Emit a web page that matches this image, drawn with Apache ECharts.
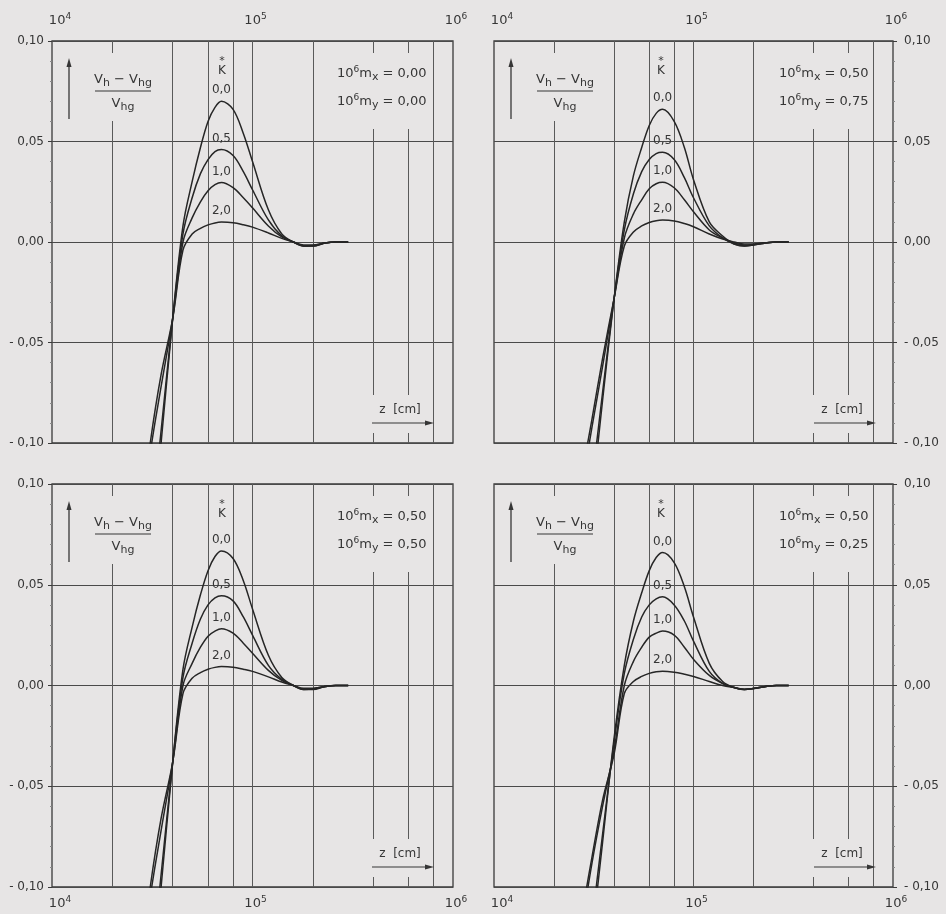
<!DOCTYPE html>
<html>
<head>
<meta charset="utf-8">
<title>(vh - vhg) / vhg over z</title>
<script src="https://cdn.jsdelivr.net/npm/echarts@6/dist/echarts.min.js"></script>
<style>
  html, body { margin: 0; padding: 0; background: #e7e5e5; }
  #chart { width: 946px; height: 914px; }
</style>
</head>
<body>
<div id="chart"></div>
<script>
// z [cm] sample points, shared by all curves
var zPoints = [28000, 31000, 35000, 40000, 45000, 50000, 55000, 60000, 65000, 70000, 80000, 90000,
  100000, 120000, 140000, 160000, 180000, 200000, 230000, 260000, 300000];

// K* = 0.0 / 0.5 / 1.0 / 2.0, panel 1 (mx 0.00, my 0.00)
var p1k00 = [-0.200, -0.155, -0.100, -0.038, 0.008, 0.030, 0.047, 0.060, 0.067, 0.070, 0.066, 0.054, 0.040, 0.016, 0.004, 0.000, -0.002, -0.002, -0.0005, 0, 0];
var p1k05 = [-0.185, -0.145, -0.094, -0.038, 0.004, 0.022, 0.034, 0.041, 0.045, 0.046, 0.043, 0.035, 0.026, 0.011, 0.003, 0.000, -0.002, -0.002, -0.0005, 0, 0];
var p1k10 = [-0.140, -0.104, -0.072, -0.038, 0.000, 0.012, 0.020, 0.0255, 0.0285, 0.0296, 0.027, 0.022, 0.017, 0.008, 0.0025, 0.000, -0.002, -0.0018, -0.0005, 0, 0];
var p1k20 = [-0.135, -0.099, -0.066, -0.038, -0.004, 0.004, 0.0068, 0.0085, 0.0095, 0.0099, 0.0096, 0.0086, 0.0074, 0.0045, 0.0018, 0.000, -0.0015, -0.0015, -0.0005, 0, 0];

// panel 2 (mx 0.50, my 0.75)
var p2k00 = [-0.169, -0.128, -0.079, -0.028, 0.010, 0.033, 0.047, 0.058, 0.064, 0.066, 0.060, 0.047, 0.031, 0.010, 0.003, -0.001, -0.002, -0.0015, -0.0005, 0, 0];
var p2k05 = [-0.160, -0.120, -0.075, -0.028, 0.006, 0.024, 0.035, 0.041, 0.044, 0.0446, 0.041, 0.032, 0.022, 0.008, 0.002, -0.001, -0.002, -0.0015, -0.0005, 0, 0];
var p2k10 = [-0.118, -0.092, -0.062, -0.028, 0.002, 0.014, 0.021, 0.0265, 0.029, 0.0297, 0.027, 0.021, 0.015, 0.006, 0.002, -0.0005, -0.0015, -0.0012, -0.0004, 0, 0];
var p2k20 = [-0.112, -0.088, -0.058, -0.028, -0.002, 0.005, 0.008, 0.0097, 0.0106, 0.0109, 0.0105, 0.0092, 0.0076, 0.004, 0.0015, 0.000, -0.001, -0.001, -0.0004, 0, 0];

// panel 3 (mx 0.50, my 0.50)
var p3k00 = [-0.195, -0.152, -0.100, -0.038, 0.008, 0.029, 0.045, 0.057, 0.064, 0.0668, 0.063, 0.052, 0.038, 0.015, 0.004, 0.000, -0.002, -0.002, -0.0005, 0, 0];
var p3k05 = [-0.185, -0.145, -0.094, -0.038, 0.004, 0.021, 0.033, 0.040, 0.0435, 0.0446, 0.042, 0.034, 0.025, 0.010, 0.003, 0.000, -0.002, -0.0018, -0.0005, 0, 0];
var p3k10 = [-0.140, -0.104, -0.072, -0.038, 0.000, 0.011, 0.019, 0.0245, 0.027, 0.0282, 0.026, 0.021, 0.016, 0.0075, 0.0025, 0.000, -0.0018, -0.0016, -0.0005, 0, 0];
var p3k20 = [-0.135, -0.099, -0.066, -0.038, -0.004, 0.0036, 0.0064, 0.0081, 0.009, 0.0094, 0.0091, 0.0081, 0.007, 0.0043, 0.0017, 0.000, -0.0014, -0.0014, -0.0005, 0, 0];

// panel 4 (mx 0.50, my 0.25)
var p4k00 = [-0.165, -0.125, -0.078, -0.026, 0.010, 0.032, 0.046, 0.057, 0.0635, 0.066, 0.061, 0.049, 0.034, 0.011, 0.002, -0.001, -0.002, -0.0015, -0.0005, 0, 0];
var p4k05 = [-0.158, -0.118, -0.074, -0.028, 0.006, 0.023, 0.034, 0.040, 0.043, 0.044, 0.040, 0.032, 0.022, 0.007, 0.001, -0.001, -0.002, -0.0015, -0.0005, 0, 0];
var p4k10 = [-0.115, -0.088, -0.060, -0.032, 0.000, 0.012, 0.019, 0.024, 0.026, 0.027, 0.025, 0.019, 0.013, 0.005, 0.001, -0.001, -0.002, -0.0015, -0.0005, 0, 0];
var p4k20 = [-0.110, -0.085, -0.057, -0.034, -0.004, 0.002, 0.0045, 0.006, 0.0068, 0.0071, 0.0066, 0.0056, 0.0045, 0.002, 0.000, -0.001, -0.0018, -0.0015, -0.0005, 0, 0];

var kLabels = ['0,0', '0,5', '1,0', '2,0'];
var mxLabels = ['0,00', '0,50', '0,50', '0,50'];
var myLabels = ['0,00', '0,75', '0,50', '0,25'];
// vertical grid lines of the log paper
var gridZ = [20000, 40000, 60000, 80000, 100000, 200000, 400000, 600000, 800000];

var panelCurves = [
  [p1k00, p1k05, p1k10, p1k20],
  [p2k00, p2k05, p2k10, p2k20],
  [p3k00, p3k05, p3k10, p3k20],
  [p4k00, p4k05, p4k10, p4k20]
];

var paper = '#e7e5e5';
var ink = '#363636';
var font = 'DejaVu Sans';

var boxes = [
  { left: 52, top: 41, width: 401, height: 402 },
  { left: 494, top: 41, width: 399, height: 402 },
  { left: 52, top: 484, width: 401, height: 403 },
  { left: 494, top: 484, width: 399, height: 403 }
];
var kX = [170, 167, 170, 167];

function fmtY(v) {
  if (Math.abs(v) < 1e-9) return '0,00';
  var s = Math.abs(v).toFixed(2).replace('.', ',');
  return v < 0 ? '- ' + s : s;
}
function fmtX(v) {
  var e = Math.round(Math.log(v) / Math.LN10);
  return (e === 4 ? '{f|10}' : '{b|10}') + '{s|' + e + '}';
}

var chart = echarts.init(document.getElementById('chart'));

var grids = [], xAxes = [], yAxes = [], series = [], graphics = [];

boxes.forEach(function (b, i) {
  var isTop = i < 2, isRight = i % 2 === 1;
  grids.push({
    left: b.left, top: b.top, width: b.width, height: b.height,
    show: true, borderColor: '#3a3a3a', borderWidth: 1.3, backgroundColor: 'transparent',
    containLabel: false, outerBoundsMode: 'none'
  });
  xAxes.push({
    type: 'log', logBase: 10, min: 10000, max: 1000000, splitNumber: 2, gridIndex: i,
    position: isTop ? 'top' : 'bottom',
    axisLine: { show: false }, axisTick: { show: false }, splitLine: { show: false },
    axisLabel: {
      formatter: fmtX, margin: isTop ? 11 : 8,
      rich: {
        b: { fontSize: 13, fontFamily: font, color: ink, lineHeight: 18, padding: [0, 0, 0, 6] },
        f: { fontSize: 13, fontFamily: font, color: ink, lineHeight: 18, padding: [0, 0, 0, 16] },
        s: { fontSize: 9, fontFamily: font, color: ink, lineHeight: 10, verticalAlign: 'top' }
      }
    }
  });
  yAxes.push({
    type: 'value', min: -0.1, max: 0.1, interval: 0.05, gridIndex: i,
    position: isRight ? 'right' : 'left',
    axisLine: { show: false },
    axisTick: { show: true, length: 4, lineStyle: { color: '#3a3a3a' } },
    minorTick: { show: true, splitNumber: 5, length: 2, lineStyle: { color: '#8a8a8a' } },
    splitLine: { show: true, lineStyle: { color: '#4a4a4a', width: 1 } },
    axisLabel: { formatter: fmtY, margin: isRight ? 11 : 8, fontSize: 12, fontFamily: font, color: ink }
  });

  // vertical grid of the log paper
  series.push({
    type: 'line', xAxisIndex: i, yAxisIndex: i, data: [], silent: true, z: 1,
    markLine: {
      z: 1, silent: true, symbol: ['none', 'none'], animation: false,
      label: { show: false },
      lineStyle: { color: '#5a5a5a', width: 1, type: 'solid' },
      emphasis: { disabled: true },
      data: gridZ.map(function (z) { return { xAxis: z }; })
    }
  });

  panelCurves[i].forEach(function (vals, k) {
    series.push({
      type: 'line', xAxisIndex: i, yAxisIndex: i, z: 5, silent: true,
      smooth: 0.35, showSymbol: false, symbol: 'none', clip: true,
      lineStyle: { color: '#262626', width: 1.5 },
      data: zPoints.map(function (z, j) { return [z, vals[j]]; }),
      markPoint: {
        z: 6, symbol: 'circle', symbolSize: 0, silent: true, animation: false,
        data: [{ type: 'max' }],
        label: { show: true, position: 'top', distance: 5, formatter: kLabels[k],
          fontSize: 12, fontFamily: font, color: ink }
      }
    });
  });

  // paper masks where the printed grid is interrupted by lettering
  var L = b.left, T = b.top, B = b.top + b.height;
  [[L + 38, T + 12, 66, 68], [L + 276, T + 12, 98, 76], [L + 308, B - 48, 68, 38]].forEach(function (r) {
    graphics.push({ type: 'rect', z: 3, silent: true,
      shape: { x: r[0], y: r[1], width: r[2], height: r[3] }, style: { fill: paper } });
  });

  var ax = L + 17;
  graphics.push({ type: 'line', z: 6, shape: { x1: ax, y1: T + 78, x2: ax, y2: T + 24 },
    style: { stroke: ink, lineWidth: 1.3 } });
  graphics.push({ type: 'polygon', z: 6, shape: { points: [[ax, T + 17], [ax - 2.5, T + 26], [ax + 2.5, T + 26]] },
    style: { fill: ink } });

  var rich = {
    v: { fontSize: 13, fontFamily: font, fill: ink, color: ink, lineHeight: 18 },
    u: { fontSize: 11, fontFamily: font, fill: ink, color: ink, lineHeight: 11, verticalAlign: 'bottom' },
    p: { fontSize: 9, fontFamily: font, fill: ink, color: ink, lineHeight: 10, verticalAlign: 'top' }
  };
  graphics.push({ type: 'text', z: 6, style: { x: L + 71, y: T + 39, text: '{v|V}{u|h}{v| \u2212 V}{u|hg}',
    align: 'center', verticalAlign: 'middle', rich: rich, fill: ink } });
  graphics.push({ type: 'line', z: 6, shape: { x1: L + 43, y1: T + 50, x2: L + 99, y2: T + 50 },
    style: { stroke: ink, lineWidth: 1.2 } });
  graphics.push({ type: 'text', z: 6, style: { x: L + 71, y: T + 63, text: '{v|V}{u|hg}',
    align: 'center', verticalAlign: 'middle', rich: rich, fill: ink } });

  graphics.push({ type: 'text', z: 6, style: { x: L + kX[i], y: T + 20, text: '*', align: 'center',
    verticalAlign: 'middle', font: '11px "' + font + '"', fill: ink } });
  graphics.push({ type: 'text', z: 6, style: { x: L + kX[i], y: T + 30, text: 'K', align: 'center',
    verticalAlign: 'middle', font: '12px "' + font + '"', fill: ink } });

  graphics.push({ type: 'text', z: 6, style: { x: L + 285, y: T + 33,
    text: '{v|10}{p|6}{v|m}{u|x}{v| = ' + mxLabels[i] + '}', align: 'left', verticalAlign: 'middle', rich: rich, fill: ink } });
  graphics.push({ type: 'text', z: 6, style: { x: L + 285, y: T + 61,
    text: '{v|10}{p|6}{v|m}{u|y}{v| = ' + myLabels[i] + '}', align: 'left', verticalAlign: 'middle', rich: rich, fill: ink } });

  graphics.push({ type: 'text', z: 6, style: { x: L + 348, y: B - 33, text: 'z  [cm]', align: 'center',
    verticalAlign: 'middle', font: '12px "' + font + '"', fill: ink } });
  graphics.push({ type: 'line', z: 6, shape: { x1: L + 320, y1: B - 20, x2: L + 374, y2: B - 20 },
    style: { stroke: ink, lineWidth: 1.2 } });
  graphics.push({ type: 'polygon', z: 6, shape: { points: [[L + 382, B - 20], [L + 373, B - 22.5], [L + 373, B - 17.5]] },
    style: { fill: ink } });
});

chart.setOption({
  backgroundColor: paper,
  animation: false,
  grid: grids,
  xAxis: xAxes,
  yAxis: yAxes,
  series: series,
  graphic: graphics
});
</script>
</body>
</html>
